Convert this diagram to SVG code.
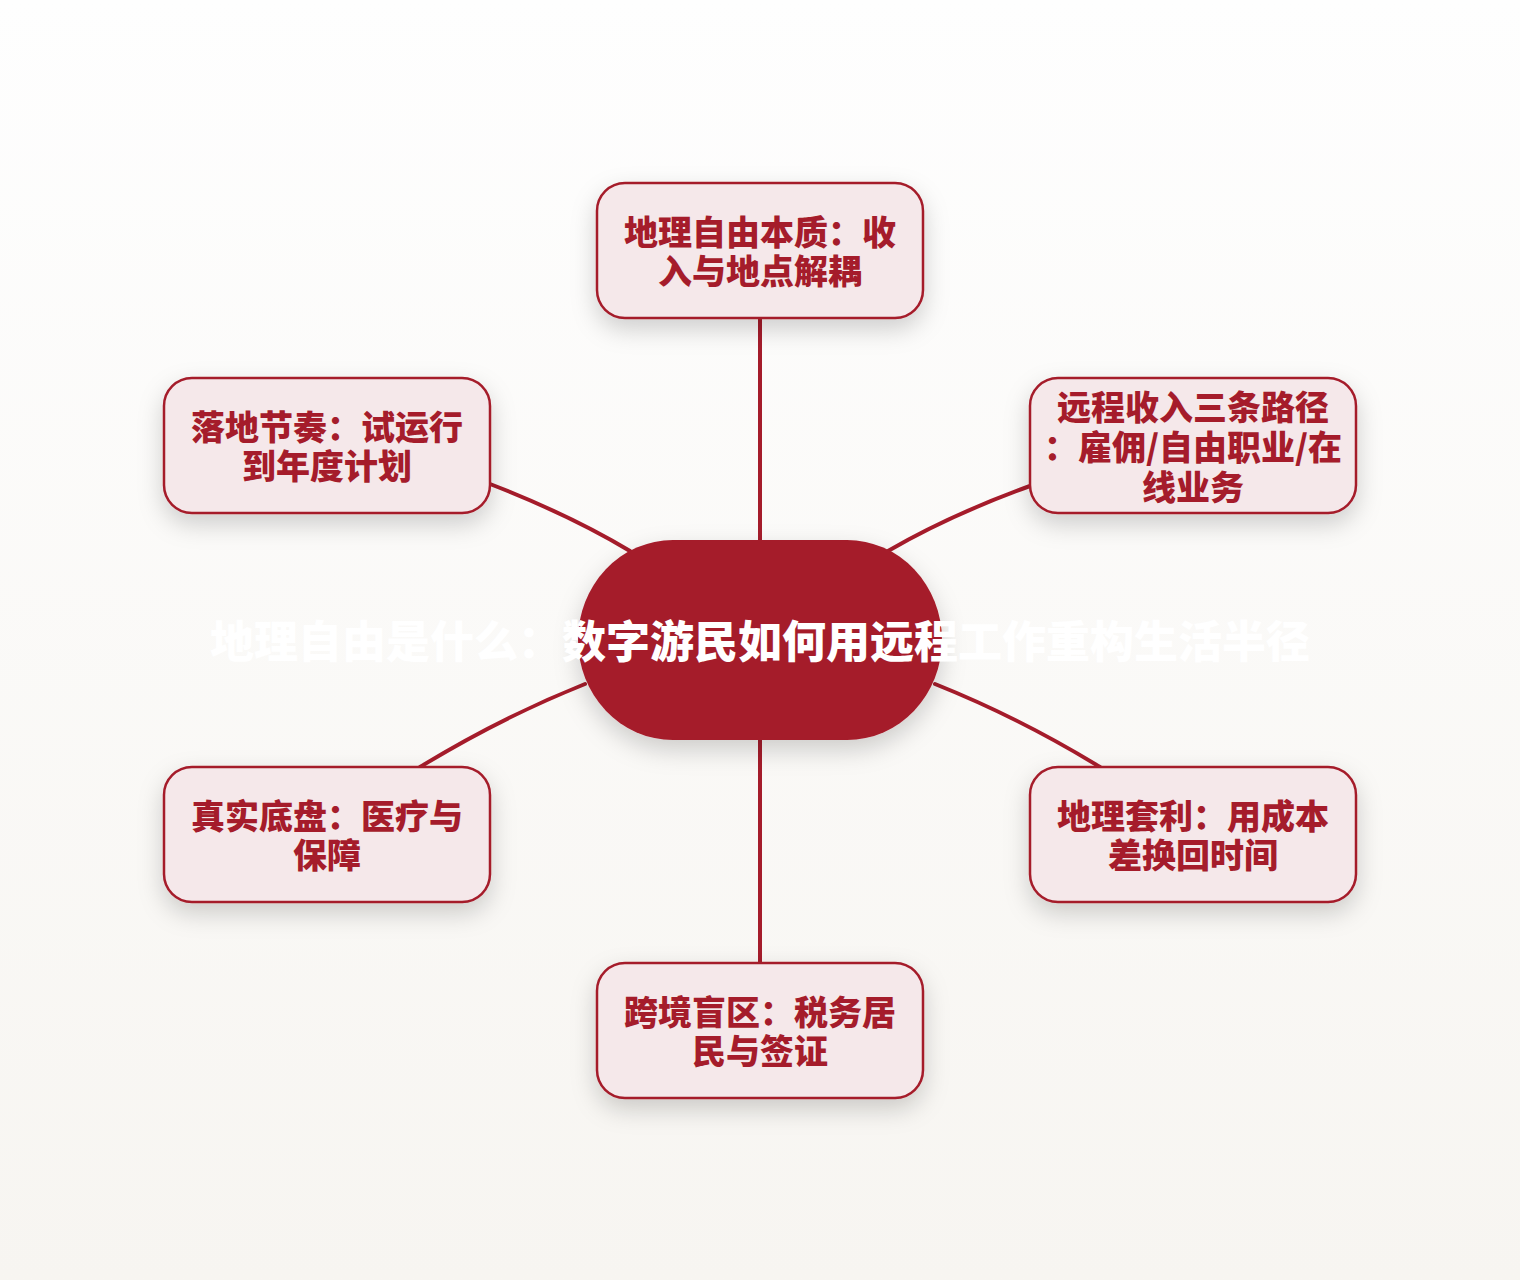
<svg xmlns="http://www.w3.org/2000/svg" width="1520" height="1280" viewBox="0 0 1520 1280">
<defs>
<linearGradient id="bg" x1="0" y1="0" x2="0" y2="1">
<stop offset="0" stop-color="#fefefe"/>
<stop offset="1" stop-color="#f7f5f1"/>
</linearGradient>
<filter id="sh" x="-30%" y="-30%" width="160%" height="170%">
<feDropShadow dx="0" dy="10" stdDeviation="12" flood-color="#000" flood-opacity="0.18"/>
</filter>
</defs>
<style>
.edge{fill:none;stroke:#a51c2b;stroke-width:4;stroke-linecap:round}
.box{fill:#f5e8ea;stroke:#a51c2b;stroke-width:2.5;filter:url(#sh)}
.lbl{font-family:"Noto Sans CJK SC","Noto Sans",sans-serif;font-weight:900;font-size:34px;fill:#a51c2b;text-anchor:middle}
.ttl{font-family:"Noto Sans CJK SC","Noto Sans",sans-serif;font-weight:900;font-size:44px;fill:#ffffff;text-anchor:middle}
</style>
<rect width="1520" height="1280" fill="url(#bg)"/>
<g id="connectors">
<path class="edge" d="M760 540 L760 318"/>
<path class="edge" d="M888 551 Q950 515 1030 486"/>
<path class="edge" d="M630 551 Q570 515 490 484"/>
<path class="edge" d="M585 684 Q500 718 420 767"/>
<path class="edge" d="M935 684 Q1020 718 1100 767"/>
<path class="edge" d="M760 740 L760 963"/>
</g>
<g id="center">
<rect x="578" y="540" width="364" height="200" rx="95" ry="100" fill="#a51c2b" filter="url(#sh)"/>
<text class="ttl" x="760" y="658">地理自由是什么：数字游民如何用远程工作重构生活半径</text>
</g>
<g id="n1">
<rect class="box" x="597" y="183" width="326" height="135" rx="28"/>
<text class="lbl" x="760" y="245">地理自由本质：收</text>
<text class="lbl" x="760" y="284">入与地点解耦</text>
</g>
<g id="n2">
<rect class="box" x="1030" y="378" width="326" height="135" rx="28"/>
<text class="lbl" x="1193" y="420">远程收入三条路径</text>
<text class="lbl" x="1193" y="460">：雇佣/自由职业/在</text>
<text class="lbl" x="1193" y="500">线业务</text>
</g>
<g id="n3">
<rect class="box" x="1030" y="767" width="326" height="135" rx="28"/>
<text class="lbl" x="1193" y="829">地理套利：用成本</text>
<text class="lbl" x="1193" y="868">差换回时间</text>
</g>
<g id="n4">
<rect class="box" x="597" y="963" width="326" height="135" rx="28"/>
<text class="lbl" x="760" y="1025">跨境盲区：税务居</text>
<text class="lbl" x="760" y="1064">民与签证</text>
</g>
<g id="n5">
<rect class="box" x="164" y="767" width="326" height="135" rx="28"/>
<text class="lbl" x="327" y="829">真实底盘：医疗与</text>
<text class="lbl" x="327" y="868">保障</text>
</g>
<g id="n6">
<rect class="box" x="164" y="378" width="326" height="135" rx="28"/>
<text class="lbl" x="327" y="440">落地节奏：试运行</text>
<text class="lbl" x="327" y="479">到年度计划</text>
</g>
</svg>
